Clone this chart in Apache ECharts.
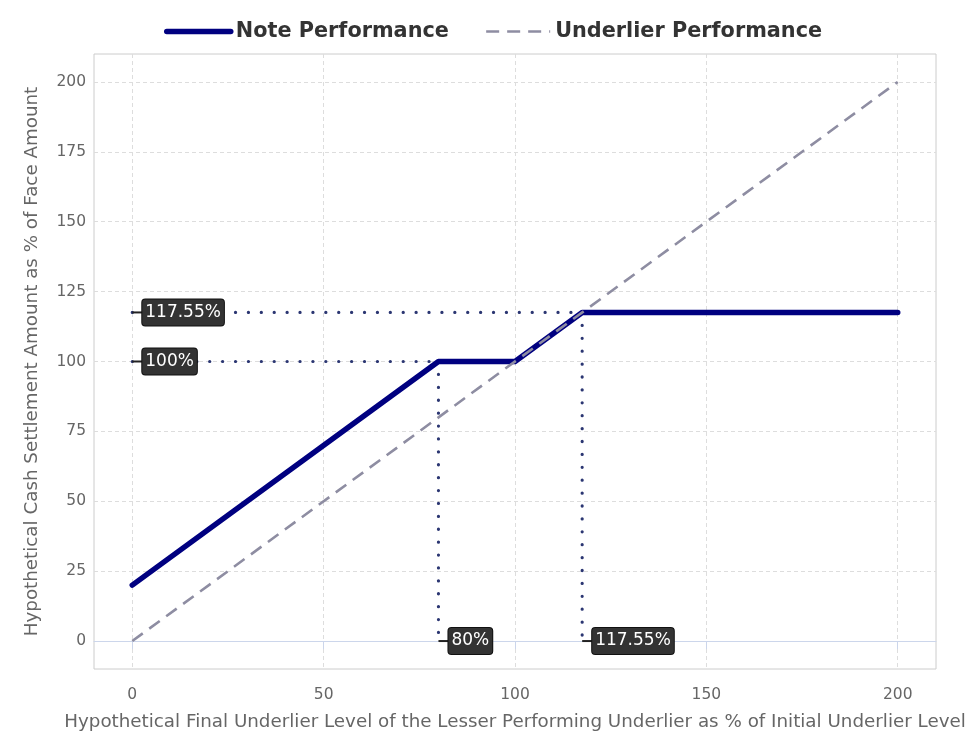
<!DOCTYPE html>
<html><head><meta charset="utf-8">
<script src="https://cdn.jsdelivr.net/npm/echarts@6/dist/echarts.min.js"></script>
<style>html,body{margin:0;padding:0;background:#fff}#c{width:975px;height:747px}</style>
</head><body><div id="c"></div>
<script>
const xTicks = [0, 50, 100, 150, 200];
const yTicks = [0, 25, 50, 75, 100, 125, 150, 175, 200];
const noteX = [0, 80, 100, 117.55, 200];
const noteY = [20, 100, 100, 117.55, 117.55];
const underX = [0, 200];
const underY = [0, 200];
const guideH = [[[0, 117.55], [117.55, 117.55]], [[0, 100], [80, 100]]];
const guideV = [[[80, 100], [80, 0]], [[117.55, 117.55], [117.55, 0]]];
const yLabels = [[0, 117.55, '117.55%'], [0, 100, '100%']];
const xLabels = [[80, 0, '80%'], [117.55, 0, '117.55%']];

const font = "'DejaVu Sans', sans-serif";
const chart = echarts.init(document.getElementById('c'));
const dotted = { color: '#2b3672', width: 3.2, type: [0.1, 12.8], cap: 'round' };
const guides = [...guideH, ...guideV].map(seg => ({
  type: 'line', data: seg, symbol: 'none', silent: true, z: 3,
  lineStyle: dotted
}));
const labelSeries = (arr) => ({
  type: 'scatter', z: 10, silent: true,
  data: arr.map(d => ({ value: [d[0], d[1]], name: d[2] })),
  symbol: 'rect', symbolSize: [10, 2], symbolOffset: [5, 0],
  itemStyle: { color: '#222', opacity: 1 },
  label: {
    show: true, position: 'right', distance: 0,
    formatter: p => p.name,
    color: '#fff', backgroundColor: '#333', borderColor: '#111', borderWidth: 1,
    borderRadius: 3, padding: [5, 3, 4, 3], fontFamily: font, fontSize: 17
  }
});
chart.setOption({
  animation: false,
  textStyle: { fontFamily: font },
  legend: {
    top: 16, left: 159, itemWidth: 64, itemHeight: 14, itemGap: 36,
    itemStyle: { opacity: 0 },
    lineStyle: { width: 'inherit' },
    textStyle: { fontFamily: font, fontWeight: 'bold', fontSize: 20.8, color: '#333' },
    data: ['Note Performance', 'Underlier Performance']
  },
  grid: { left: 94, right: 39, top: 54, bottom: 78, show: true, borderColor: '#cccccc', borderWidth: 1 },
  xAxis: {
    type: 'value', min: -10, max: 210,
    name: 'Hypothetical Final Underlier Level of the Lesser Performing Underlier as % of Initial Underlier Level',
    nameLocation: 'middle', nameGap: 44,
    nameTextStyle: { fontFamily: font, fontSize: 18.3, color: '#666' },
    axisLine: { show: true, lineStyle: { color: '#ccd6eb', width: 1 } },
    axisTick: { show: true, customValues: xTicks, length: 8, lineStyle: { color: '#ccd6eb' } },
    axisLabel: { customValues: xTicks, fontSize: 15.5, color: '#666', margin: 18, fontFamily: font },
    splitLine: { show: true, lineStyle: { color: '#dddddd', type: [4, 3] } }
  },
  yAxis: {
    type: 'value', min: -10, max: 210,
    name: 'Hypothetical Cash Settlement Amount as % of Face Amount',
    nameLocation: 'middle', nameGap: 53, nameRotate: 90,
    nameTextStyle: { fontFamily: font, fontSize: 18.3, color: '#666' },
    axisLine: { show: false },
    axisTick: { show: false, customValues: yTicks },
    axisLabel: { customValues: yTicks, fontSize: 15.5, color: '#666', margin: 8, fontFamily: font },
    splitLine: { show: true, lineStyle: { color: '#dddddd', type: [4, 3] } }
  },
  series: [
    ...guides,
    {
      name: 'Note Performance', type: 'line', symbol: 'none', z: 4,
      data: noteX.map((x, i) => [x, noteY[i]]),
      lineStyle: { color: '#000080', width: 5.5, cap: 'round', join: 'round' },
      itemStyle: { color: '#000080' }
    },
    {
      name: 'Underlier Performance', type: 'line', symbol: 'none', z: 5,
      data: underX.map((x, i) => [x, underY[i]]),
      lineStyle: { color: '#8e8da2', width: 2.6, type: [13, 8] },
      itemStyle: { color: '#8e8da2' }
    },
    labelSeries(yLabels),
    labelSeries(xLabels)
  ]
});
</script></body></html>
